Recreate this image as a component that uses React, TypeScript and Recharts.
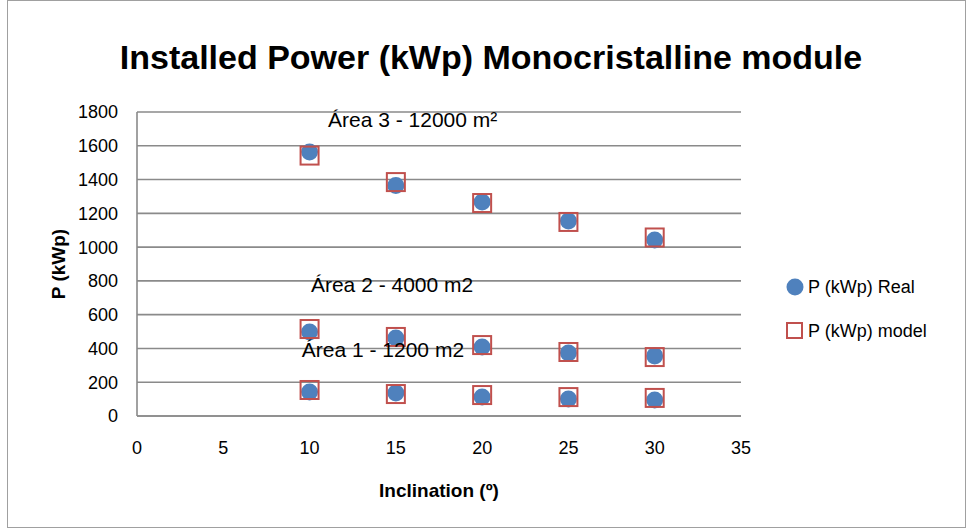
import React from 'react';
import { ScatterChart, Scatter, XAxis, YAxis, CartesianGrid, ReferenceDot } from 'recharts';

const inclination = [10, 15, 20, 25, 30];
const realArea1 = [142, 136, 112, 100, 95];
const modelArea1 = [154, 130, 124, 112, 107];
const realArea2 = [497, 462, 409, 373, 356];
const modelArea2 = [515, 468, 420, 379, 349];
const realArea3 = [1563, 1365, 1267, 1155, 1042];
const modelArea3 = [1542, 1385, 1261, 1149, 1057];
const xTicks = [0, 5, 10, 15, 20, 25, 30, 35];
const yTicks = [0, 200, 400, 600, 800, 1000, 1200, 1400, 1600, 1800];
const seriesNames = ['P (kWp) Real', 'P (kWp) model'];
const areaLabels = ['Área 1 - 1200 m2', 'Área 2 - 4000 m2', 'Área 3 - 12000 m²'];
const areaLabelX = [9.55, 10.08, 11.07];
const areaLabelY = [391, 776, 1753];
const title = 'Installed Power (kWp) Monocristalline module';
const xTitle = 'Inclination (º)';
const yTitle = 'P (kWp)';

const toPoints = (...areas: number[][]) =>
  areas.flatMap((vals) => inclination.map((x, i) => ({ x, y: vals[i] })));

const realData = toPoints(realArea1, realArea2, realArea3);
const modelData = toPoints(modelArea1, modelArea2, modelArea3);

const FONT = '"Liberation Sans", Arial, sans-serif';
const BLUE = '#4F81BD';
const RED = '#C0504D';
const GRID = '#8a8a8a';

const circleShape = (p: any) => <circle cx={p.cx} cy={p.cy} r={8.5} fill={BLUE} />;
const squareShape = (p: any) => (
  <rect x={p.cx - 9} y={p.cy - 9} width={18} height={18} fill="none" stroke={RED} strokeWidth={2} />
);

const LegendBox = () => (
  <div style={{ position: 'absolute', left: 783, top: 272, fontFamily: FONT, fontSize: 18, color: '#000' }}>
    <div style={{ display: 'flex', alignItems: 'center', height: 30 }}>
      <svg width={22} height={22} style={{ marginRight: 3 }}>
        <circle cx={12} cy={11} r={8.5} fill={BLUE} />
      </svg>
      <span>{seriesNames[0]}</span>
    </div>
    <div style={{ display: 'flex', alignItems: 'center', height: 30, marginTop: 14 }}>
      <svg width={22} height={22} style={{ marginRight: 3 }}>
        <rect x={4} y={3} width={15} height={15} fill="none" stroke={RED} strokeWidth={2} />
      </svg>
      <span>{seriesNames[1]}</span>
    </div>
  </div>
);

const areaLabel = (text: string) => (props: any) => {
  const vb = props.viewBox || {};
  return (
    <text x={vb.x} y={(vb.y || 0) + (vb.height || 0) / 2} dominantBaseline="central" textAnchor="start"
      fontFamily={FONT} fontSize={21} fill="#000">
      {text}
    </text>
  );
};

export default function App() {
  return (
    <div style={{ position: 'absolute', left: 0, top: 0, width: 970, height: 529, background: '#fff' }}>
      <div style={{ position: 'absolute', left: 7, top: 0, width: 957, height: 526, border: '1.5px solid #a0a0a0' }} />
      <div style={{ position: 'absolute', left: 0, top: 0 }}>
        <ScatterChart width={970} height={529} margin={{ top: 112, right: 229, bottom: 33, left: 0 }}>
          <text x={491} y={57} textAnchor="middle" dominantBaseline="central" fontFamily={FONT}
            fontWeight="bold" fontSize={34} fill="#000">
            {title}
          </text>
          <CartesianGrid horizontal vertical={false} stroke={GRID} strokeWidth={1.6} />
          <XAxis type="number" dataKey="x" domain={[0, 35]} ticks={xTicks} height={80}
            tickSize={0} tickMargin={25} stroke={GRID} strokeWidth={1.6}
            tick={{ fill: '#000', fontSize: 18, fontFamily: FONT }}
            label={{ value: xTitle, position: 'insideBottom', offset: -1, fill: '#000', fontSize: 19, fontWeight: 'bold', fontFamily: FONT }} />
          <YAxis type="number" dataKey="y" domain={[0, 1800]} ticks={yTicks} width={137}
            tickSize={0} tickMargin={19} stroke={GRID} strokeWidth={1.6}
            tick={{ fill: '#000', fontSize: 18, fontFamily: FONT }}
            label={{
              content: () => (
                <text x={58} y={264} transform="rotate(-90 58 264)" textAnchor="middle" dominantBaseline="central"
                  fontFamily={FONT} fontWeight="bold" fontSize={19} fill="#000">
                  {yTitle}
                </text>
              ),
            }} />
          <Scatter name={seriesNames[0]} data={realData} shape={circleShape} isAnimationActive={false} />
          <Scatter name={seriesNames[1]} data={modelData} shape={squareShape} isAnimationActive={false} />
          {areaLabels.map((t, i) => (
            <ReferenceDot key={t} x={areaLabelX[i]} y={areaLabelY[i]} r={0} fill="none" stroke="none"
              label={areaLabel(t)} />
          ))}
        </ScatterChart>
      </div>
      <LegendBox />
    </div>
  );
}
